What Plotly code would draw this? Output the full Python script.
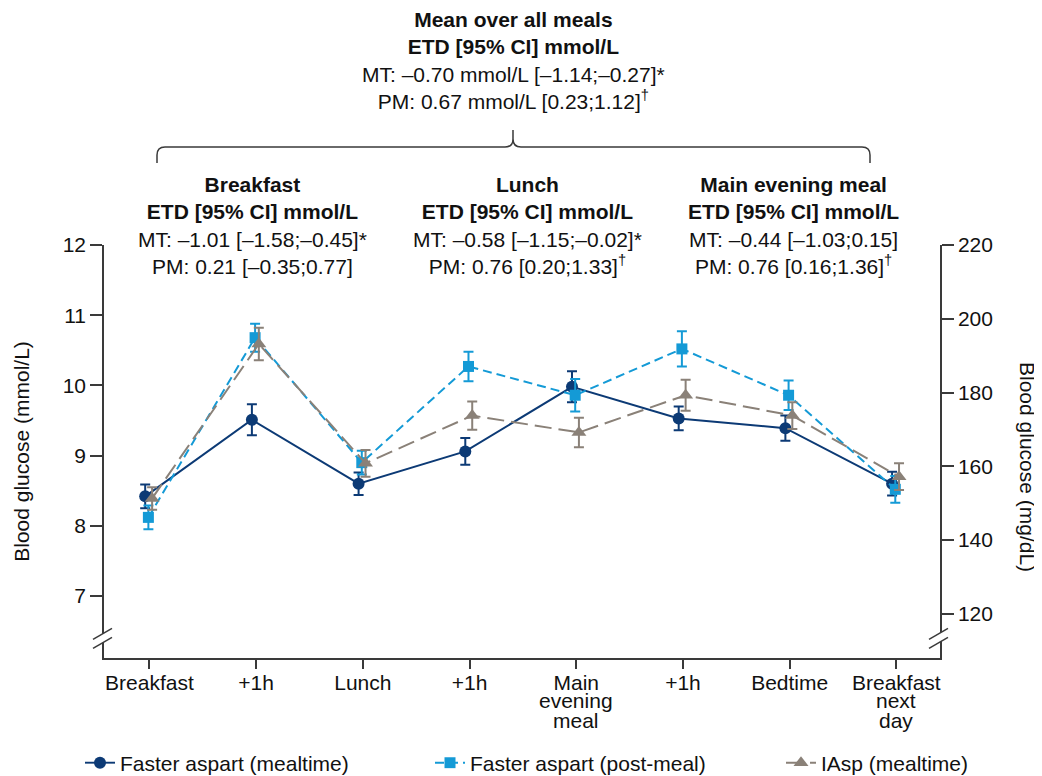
import numpy as np
import plotly.graph_objects as go

# ---------------- data ----------------
categories = ["Breakfast", "+1h", "Lunch", "+1h", "Main<br>evening<br>meal",
              "+1h", "Bedtime", "Breakfast<br>next<br>day"]

fa_meal = [8.42, 9.51, 8.60, 9.06, 9.98, 9.53, 9.39, 8.60]
fa_meal_err = [0.17, 0.22, 0.16, 0.19, 0.22, 0.17, 0.18, 0.17]

fa_post = [8.12, 10.68, 8.90, 10.27, 9.86, 10.52, 9.86, 8.52]
fa_post_err = [0.17, 0.20, 0.17, 0.21, 0.23, 0.25, 0.21, 0.19]

iasp = [8.39, 10.59, 8.89, 9.57, 9.33, 9.86, 9.57, 8.70]
iasp_err = [0.16, 0.23, 0.19, 0.20, 0.21, 0.22, 0.19, 0.19]

series_names = ["Faster aspart (mealtime)", "Faster aspart (post-meal)", "IAsp (mealtime)"]

left_ticks = [7, 8, 9, 10, 11, 12]
right_ticks = [120, 140, 160, 180, 200, 220]
MGDL_PER_MMOL = 18.0

overall_text = ["<b>Mean over all meals</b>", "<b>ETD [95% CI] mmol/L</b>",
                "MT: –0.70 mmol/L [–1.14;–0.27]*", "PM: 0.67 mmol/L [0.23;1.12]<sup>†</sup>"]
meal_texts = [
    ["<b>Breakfast</b>", "<b>ETD [95% CI] mmol/L</b>", "MT: –1.01 [–1.58;–0.45]*", "PM: 0.21 [–0.35;0.77]"],
    ["<b>Lunch</b>", "<b>ETD [95% CI] mmol/L</b>", "MT: –0.58 [–1.15;–0.02]*", "PM: 0.76 [0.20;1.33]<sup>†</sup>"],
    ["<b>Main evening meal</b>", "<b>ETD [95% CI] mmol/L</b>", "MT: –0.44 [–1.03;0.15]", "PM: 0.76 [0.16;1.36]<sup>†</sup>"],
]

# ---------------- styling ----------------
FONT = "Liberation Sans, Arial, sans-serif"
FS = 21
NAVY = "#0C3A75"
BLUE = "#149AD6"
GRAY = "#8A8178"
AXC = "#3a3a3a"

OFF = 8                      # default page (body) margin of the html page
W, H = 1042 - OFF, 776 - OFF  # figure size so it ends at the window edge
# plot area in page pixels
PL, PR, PT, PB = 104, 940, 245, 658
L, R, T, B = PL - OFF, PR - OFF, PT - OFF, PB - OFF
PW, PH = R - L, B - T


def px_x(page_x):
    return (page_x - OFF - L) / PW


def px_y(page_y):
    return (B - (page_y - OFF)) / PH


x_idx = np.arange(len(categories))

fig = go.Figure()

specs = [
    (fa_meal, fa_meal_err, NAVY, "circle", 12, "solid", -0.04, "legend"),
    (fa_post, fa_post_err, BLUE, "square", 11, "9px,5px", -0.01, "legend2"),
    (iasp, iasp_err, GRAY, "triangle-up", 13, "17px,7px", 0.025, "legend3"),
]
for name, (vals, errs, col, sym, ms, dash, off, lg) in zip(series_names, specs):
    fig.add_trace(go.Scatter(
        x=x_idx + off, y=vals, name=name, mode="lines+markers",
        line=dict(color=col, width=2, dash=dash),
        marker=dict(color=col, symbol=sym, size=ms, line=dict(width=0)),
        error_y=dict(type="data", array=errs, visible=True, color=col,
                     thickness=2, width=5),
        legend=lg,
    ))

# invisible companion trace so the mg/dL axis is drawn
fig.add_trace(go.Scatter(
    x=x_idx, y=[v * MGDL_PER_MMOL for v in fa_meal], yaxis="y2",
    mode="markers", marker=dict(opacity=0), showlegend=False, hoverinfo="skip",
))

first_lines = [c.split("<br>")[0] for c in categories]

common_axis = dict(showline=True, linecolor=AXC, linewidth=1.5,
                   ticks="outside", tickwidth=1.5, tickcolor=AXC,
                   showgrid=False, zeroline=False, tickfont=dict(size=FS))

legend_common = dict(xanchor="left", yanchor="middle", orientation="h",
                     font=dict(size=FS), bgcolor="rgba(0,0,0,0)")

fig.update_layout(
    width=W, height=H,
    margin=dict(l=L, r=W - R, t=T, b=H - B, pad=0, autoexpand=False),
    paper_bgcolor="white", plot_bgcolor="white",
    font=dict(family=FONT, size=FS, color="#111111"),
    xaxis=dict(range=[-0.426, 7.409], tickmode="array", tickvals=list(x_idx),
               ticktext=first_lines, ticklen=9, automargin=False,
               ticklabelstandoff=-4, **common_axis),
    yaxis=dict(range=[6.117, 12.0], tickmode="array", tickvals=left_ticks,
               ticklen=12, automargin=False,
               title=dict(text="Blood glucose (mmol/L)", standoff=27,
                          font=dict(size=FS)), **common_axis),
    yaxis2=dict(range=[108, 220], overlaying="y", side="right", anchor="x",
                tickmode="array", tickvals=right_ticks, ticklen=12,
                automargin=False, **common_axis),
    legend=dict(x=px_x(80), y=px_y(763), **legend_common),
    legend2=dict(x=px_x(430), y=px_y(763), **legend_common),
    legend3=dict(x=px_x(781), y=px_y(763), **legend_common),
    showlegend=True,
)

annotations = []
# extra lines of multi-line category labels
for i, c in enumerate(categories):
    parts = c.split("<br>")
    for k, p in enumerate(parts[1:], start=1):
        annotations.append(dict(x=i, xref="x", y=px_y(681 + 19.5 * k), yref="paper",
                                text=p, showarrow=False, xanchor="center",
                                yanchor="middle", font=dict(size=FS)))

annotations.append(dict(x=px_x(513), y=px_y(60), xref="paper", yref="paper",
                        text="<br>".join(overall_text), showarrow=False,
                        xanchor="center", yanchor="middle", align="center",
                        font=dict(size=FS)))
for cx, lines in zip([252, 527, 793], meal_texts):
    annotations.append(dict(x=px_x(cx), y=px_y(225.5), xref="paper", yref="paper",
                            text="<br>".join(lines), showarrow=False,
                            xanchor="center", yanchor="middle", align="center",
                            font=dict(size=FS)))
annotations.append(dict(x=px_x(1028), y=px_y(467), xref="paper", yref="paper",
                        text="Blood glucose (mg/dL)", textangle=90, showarrow=False,
                        xanchor="center", yanchor="middle", font=dict(size=FS)))
fig.update_layout(annotations=annotations)

# brace (page pixel coordinates)
brace_pts = [("M", 157, 163), ("L", 157, 155), ("Q", 157, 147, 165, 147), ("L", 505, 147),
             ("Q", 513, 147, 513, 139), ("L", 513, 130), ("L", 513, 139),
             ("Q", 513, 147, 521, 147), ("L", 862, 147), ("Q", 870, 147, 870, 155),
             ("L", 870, 163)]
path = ""
for cmd in brace_pts:
    c = cmd[0]
    nums = cmd[1:]
    coords = []
    for j in range(0, len(nums), 2):
        coords.append(f"{px_x(nums[j]):.5f},{px_y(nums[j+1]):.5f}")
    path += c + " " + " ".join(coords) + " "
shapes = [dict(type="path", path=path.strip(), xref="paper", yref="paper",
               line=dict(color=AXC, width=1.5))]

# axis breaks
for ax_x in [PL, PR]:
    dx = ax_x - PL
    p1a, p1b = (93 + dx, 639.3), (112 + dx, 628.3)
    p2a, p2b = (93 + dx, 648.3), (112 + dx, 637.3)
    poly = (f"M {px_x(p1a[0])},{px_y(p1a[1])} L {px_x(p1b[0])},{px_y(p1b[1])} "
            f"L {px_x(p2b[0])},{px_y(p2b[1])} L {px_x(p2a[0])},{px_y(p2a[1])} Z")
    shapes.append(dict(type="path", path=poly, xref="paper", yref="paper",
                       fillcolor="white", line=dict(width=0), layer="above"))
    for a, b in [(p1a, p1b), (p2a, p2b)]:
        shapes.append(dict(type="line", xref="paper", yref="paper",
                           x0=px_x(a[0]), y0=px_y(a[1]), x1=px_x(b[0]), y1=px_y(b[1]),
                           line=dict(color=AXC, width=1.5), layer="above"))
fig.update_layout(shapes=shapes)

fig.write_html("out.html")
